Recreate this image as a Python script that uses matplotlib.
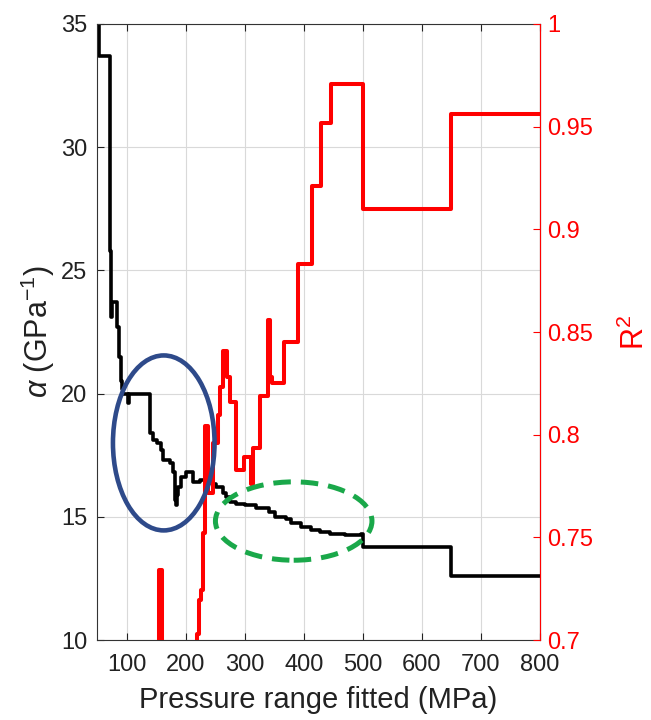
import matplotlib.pyplot as plt
from matplotlib.patches import Ellipse

plt.rcParams['font.family'] = ['Liberation Sans', 'DejaVu Sans']
plt.rcParams['mathtext.fontset'] = 'custom'
plt.rcParams['mathtext.rm'] = 'Liberation Sans'
plt.rcParams['mathtext.it'] = 'Liberation Sans:italic'

# alpha vs pressure range (black, left axis)
alpha_x = [50, 53, 72, 74, 75, 84, 88, 90, 92, 94, 102, 104, 139.5, 145, 151, 159, 162,
           173, 178, 182, 183.4, 185, 187, 193, 201.5, 212, 224, 232, 244, 252, 263, 268,
           274.7, 285, 300, 320, 342, 351, 370, 379, 396, 413, 427, 444, 470, 497, 500,
           650, 800]
alpha_y = [36, 33.7, 25.8, 23.1, 23.7, 22.7, 21.5, 20.5, 20.2, 20.0, 19.6, 20.0, 18.4, 18.1,
           18.0, 17.7, 17.3, 17.2, 16.8, 15.7, 15.5, 15.9, 16.2, 16.6, 16.8, 16.4, 16.5,
           16.4, 16.35, 16.2, 15.97, 15.8, 15.6, 15.52, 15.48, 15.36, 15.2, 15.0, 14.9,
           14.75, 14.59, 14.46, 14.38, 14.3, 14.26, 14.3, 13.78, 12.6, 12.6]

# R^2 vs pressure range (red, right axis)
r2_x = [140, 154.5, 160, 217, 219, 223, 225.7, 229, 233.3, 237.5, 246, 254.4, 258.6,
        262.8, 269.6, 274.6, 285.6, 298.3, 311, 314.4, 325.3, 340, 343, 345.5, 367,
        390.4, 413.2, 430, 447, 500, 650, 800]
r2_y = [0.6, 0.734, 0.6, 0.69, 0.703, 0.7195, 0.7243, 0.752, 0.804, 0.7716, 0.796, 0.8096,
        0.823, 0.841, 0.828, 0.816, 0.783, 0.789, 0.776, 0.7935, 0.819, 0.856, 0.828,
        0.825, 0.845, 0.883, 0.921, 0.952, 0.971, 0.910, 0.956, 0.956]

x_ticks = [100, 200, 300, 400, 500, 600, 700, 800]
alpha_ticks = [10, 15, 20, 25, 30, 35]
r2_ticks = [0.7, 0.75, 0.8, 0.85, 0.9, 0.95, 1]
r2_labels = ['0.7', '0.75', '0.8', '0.85', '0.9', '0.95', '1']

fig = plt.figure(figsize=(6.51, 7.2), dpi=100)
ax = fig.add_axes([0.149, 0.111, 0.6805, 0.8557])
ax2 = ax.twinx()

ax.step(alpha_x, alpha_y, where='post', color='black', lw=2.6)
ax2.step(r2_x, r2_y, where='post', color='#ff0000', lw=2.9)

ax.set_xlim(50, 800)
ax.set_ylim(10, 35)
ax2.set_ylim(0.7, 1)
ax.set_xticks(x_ticks)
ax.set_yticks(alpha_ticks)
ax2.set_yticks(r2_ticks)
ax2.set_yticklabels(r2_labels)

ax.grid(True, color='#d9d9d9', lw=0.8)
ax.set_axisbelow(True)

ax.tick_params(axis='both', direction='in', labelsize=17, length=5, width=0.8,
               top=True, pad=10, colors='#222222')
ax.tick_params(axis='y', pad=7)
ax2.tick_params(axis='y', direction='in', labelsize=17, length=5, width=0.8,
                colors='#ff0000', pad=5)

for s in ['left', 'bottom', 'top']:
    ax.spines[s].set_color('#333333')
ax2.spines['right'].set_color('#ff0000')
ax2.spines['left'].set_visible(False)
ax2.spines['top'].set_visible(False)
ax2.spines['bottom'].set_visible(False)

ax.set_xlabel('Pressure range fitted (MPa)', fontsize=21, color='#222222', labelpad=7)
ax.set_ylabel(r'$\alpha$ (GPa$^{-1}$)', fontsize=22, color='#222222', labelpad=3)
ax2.set_ylabel('R$^2$', fontsize=22, color='#ff0000', labelpad=19)

# annotation ellipses
blue = Ellipse((163, 18.0), 172, 7.1, transform=ax.transData, fill=False,
               edgecolor='#2e4a8a', lw=3.3, zorder=5)
green = Ellipse((383, 14.83), 265, 3.18, transform=ax.transData, fill=False,
                edgecolor='#1aa84a', lw=3.6, ls=(0, (3.5, 2)), zorder=5)
ax2.add_patch(blue)
ax2.add_patch(green)

fig.savefig('out.png', dpi=100)
